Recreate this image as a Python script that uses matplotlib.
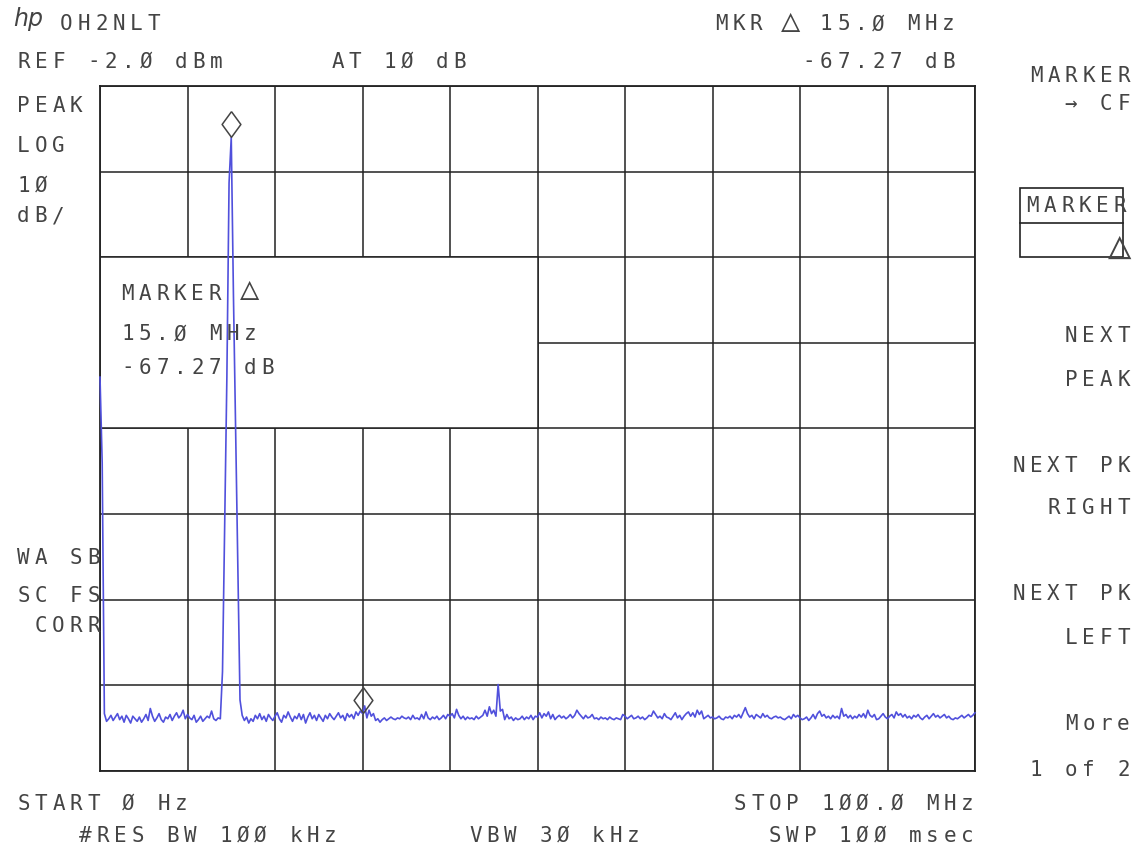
import numpy as np
import matplotlib as mpl; mpl.use('Agg')
import matplotlib.pyplot as plt
from matplotlib.patches import Rectangle
from matplotlib.transforms import offset_copy

W, H = 1148, 865
TRACE = '#5050dc'; INK = '#444444'; GRID = '#222222'

# analyzer settings
F_START, F_STOP = 0.0, 100.0          # MHz
REF_LEVEL, DB_DIV, N_DIV = -2.0, 10.0, 8

# trace, 401 points, dBm
levels = [
    -36.0, -46.0, -75.3, -76.2, -75.9, -75.5, -76.1, -75.7, -75.3, -76.0,
    -75.6, -76.3, -75.5, -75.9, -76.4, -75.6, -75.9, -76.2, -75.7, -76.3,
    -75.9, -75.4, -76.1, -74.7, -75.6, -76.2, -75.8, -75.3, -76.0, -76.3,
    -75.7, -75.9, -75.4, -76.1, -75.6, -75.2, -75.8, -75.5, -74.9, -75.9,
    -75.4, -75.8, -76.0, -75.5, -76.3, -76.0, -75.6, -76.2, -75.9, -75.6,
    -75.8, -75.0, -75.9, -76.1, -75.8, -75.9, -70.4, -53.0, -36.0, -13.3,
    -8.0, -26.4, -42.0, -58.0, -73.7, -75.5, -76.1, -75.7, -76.4, -75.9,
    -76.2, -75.5, -75.9, -75.3, -76.0, -75.6, -76.2, -75.4, -75.8, -76.1,
    -75.6, -75.2, -75.9, -76.3, -75.5, -75.8, -75.1, -75.7, -76.2, -75.6,
    -75.9, -75.3, -76.0, -75.4, -76.4, -75.7, -75.2, -75.9, -75.5, -76.1,
    -75.4, -75.8, -76.2, -75.5, -75.9, -75.3, -75.7, -76.0, -75.6, -75.2,
    -75.8, -75.5, -76.1, -75.3, -75.7, -75.4, -75.9, -75.1, -75.5, -75.0,
    -75.27, -74.4, -75.8, -74.9, -75.6, -75.3, -76.1, -75.9, -76.3, -76.0,
    -75.8, -76.1, -75.9, -75.7, -75.9, -76.0, -75.8, -75.9, -75.6, -75.8,
    -75.9, -75.7, -76.0, -75.5, -75.9, -75.8, -76.0, -75.4, -75.9, -75.1,
    -75.8, -76.0, -75.7, -75.9, -75.6, -76.0, -75.8, -75.5, -75.9, -75.4,
    -75.6, -75.3, -75.8, -74.8, -75.5, -75.9, -75.6, -76.0, -75.7, -75.9,
    -75.8, -76.0, -75.6, -75.9, -75.7, -75.5, -74.9, -75.6, -74.5, -75.3,
    -74.9, -75.6, -71.9, -75.0, -74.8, -76.0, -75.4, -75.9, -75.7, -76.1,
    -75.8, -76.0, -75.9, -75.6, -76.0, -75.7, -75.9, -75.5, -76.0, -75.6,
    -75.7, -75.2, -75.8, -75.3, -75.6, -75.1, -75.9, -75.4, -76.0, -75.7,
    -75.5, -75.8, -75.6, -75.9, -75.7, -75.4, -75.8, -75.5, -74.9, -75.3,
    -75.6, -75.9, -75.5, -75.8, -75.7, -75.4, -75.9, -75.8, -76.0, -75.7,
    -75.9, -75.8, -76.0, -75.7, -75.9, -76.0, -75.8, -75.9, -76.0, -75.4,
    -75.6, -75.9, -75.7, -75.5, -75.9, -75.8, -75.6, -75.9, -75.7, -76.0,
    -75.8, -75.5, -75.6, -75.0, -75.4, -75.8, -75.6, -75.9, -75.3, -75.7,
    -75.8, -76.0, -75.6, -75.2, -75.8, -75.5, -76.0, -75.6, -75.3, -75.1,
    -75.6, -75.2, -75.7, -74.9, -75.4, -75.0, -75.9, -75.7, -75.5, -75.8,
    -75.7, -75.9, -75.8, -75.6, -75.9, -76.0, -75.7, -75.8, -75.6, -75.9,
    -75.5, -75.7, -75.4, -75.8, -75.2, -74.6, -75.3, -75.7, -75.5, -75.9,
    -75.4, -75.6, -75.8, -75.3, -75.7, -75.5, -75.8, -75.9, -75.7, -75.6,
    -75.8, -75.7, -75.9, -76.0, -75.8, -75.6, -75.9, -75.4, -75.7, -75.5,
    -75.8, -76.0, -75.9, -75.7, -76.1, -75.8, -75.4, -75.9, -75.3, -75.0,
    -75.6, -75.4, -75.8, -75.6, -75.9, -75.5, -75.8, -75.6, -75.9, -74.7,
    -75.6, -75.4, -75.8, -75.5, -75.9, -75.6, -75.8, -75.4, -75.7, -75.3,
    -75.8, -74.9, -75.5, -75.7, -75.4, -76.0, -75.9, -75.6, -75.3, -75.7,
    -75.9, -75.6, -75.4, -75.8, -75.1, -75.5, -75.3, -75.7, -75.4, -75.8,
    -75.6, -75.9, -75.5, -75.7, -75.4, -75.8, -76.0, -75.7, -75.5, -75.9,
    -75.6, -75.3, -75.7, -75.5, -75.8, -75.6, -75.4, -75.8, -75.6, -75.9,
    -76.0, -75.8, -75.9, -75.7, -75.5, -75.8, -75.6, -75.4, -75.7, -75.5,
    -75.2,
]
freqs = np.linspace(F_START, F_STOP, len(levels))

# marker (reference) and delta marker, MHz
marker_freqs = [15.0, 30.0]

# annotation box spans 0..50 MHz, divisions 2..4 from top
box_f = (0.0, 50.0)
box_div = (2, 4)

# ---- figure
fig = plt.figure(figsize=(W / 100, H / 100), dpi=100)
ax = fig.add_axes([100 / W, 1 - 771 / H, 875 / W, 685 / H])
bottom = REF_LEVEL - N_DIV * DB_DIV
ax.set_xlim(F_START, F_STOP); ax.set_ylim(bottom, REF_LEVEL)
ax.set_xticks(np.linspace(F_START, F_STOP, 11))
ax.set_yticks(np.linspace(bottom, REF_LEVEL, N_DIV + 1))
ax.tick_params(length=0, labelbottom=False, labelleft=False)
ax.grid(True, color=GRID, lw=1.1)
ax.set_axisbelow(True)
for s in ax.spines.values():
    s.set_color(GRID); s.set_linewidth(1.3)

y_hi = REF_LEVEL - box_div[0] * DB_DIV
y_lo = REF_LEVEL - box_div[1] * DB_DIV
ax.add_patch(Rectangle((box_f[0], y_lo), box_f[1] - box_f[0], y_hi - y_lo,
                       facecolor='white', edgecolor=GRID, lw=1.1, zorder=1))

ax.plot(freqs, levels, color=TRACE, lw=1.2, zorder=3, clip_on=False)

diamond = [(0, 1), (0.73, 0), (0, -1), (-0.73, 0), (0, 1)]
up = offset_copy(ax.transData, fig=fig, x=0, y=13, units='dots')
for mf in marker_freqs:
    lv = np.interp(mf, freqs, levels)
    ax.plot([mf], [lv], marker=diamond, ms=18.5, mfc='none', mec=INK, mew=1.1,
            transform=up, zorder=4, clip_on=False)

# ---- screen annotations, fixed-pitch like the analyzer font
PITCH, GLYPH = 17.5, 11.0
FONT = dict(family=['DejaVu Sans Mono', 'DejaVu Sans'], color=INK)


def hp_text(s, x, y, align='left', tri=23):
    if align == 'right':
        x = x - GLYPH - (len(s) - 1) * PITCH
    for k, ch in enumerate(s):
        if ch == ' ':
            continue
        size = tri if ch == '△' else 15
        fig.text((x + GLYPH / 2 + k * PITCH) / W, 1 - (y + 7.5) / H, ch,
                 ha='center', va='baseline', size=size, **FONT)


fig.text(28 / W, 1 - 26 / H, 'hp', fontstyle='italic', ha='center', va='baseline',
         family='DejaVu Sans', size=17, color=INK)
hp_text('OH2NLT', 61, 23)
hp_text('REF -2.Ø dBm', 18, 60)
hp_text('AT 1Ø dB', 332, 60)
hp_text('MKR △ 15.Ø MHz', 954, 23, 'right')
hp_text('-67.27 dB', 954, 60, 'right')

for s, y in [('PEAK', 105), ('LOG', 145), ('1Ø', 184), ('dB/', 215),
             ('WA SB', 556), ('SC FS', 595), (' CORR', 624)]:
    hp_text(s, 18, y)

for s, y in [('MARKER △', 292), ('15.Ø MHz', 333), ('-67.27 dB', 366)]:
    hp_text(s, 122, y)

for s, y in [('MARKER', 75), ('→ CF', 102), ('NEXT', 335), ('PEAK', 379),
             ('NEXT PK', 465), ('RIGHT', 507), ('NEXT PK', 593), ('LEFT', 636),
             ('More', 722), ('1 of 2', 768)]:
    hp_text(s, 1129, y, 'right')

# active softkey box
fig.add_artist(Rectangle((1020 / W, 1 - 257 / H), 103 / W, 69 / H, transform=fig.transFigure,
                         facecolor='none', edgecolor=GRID, lw=1.2))
fig.add_artist(plt.Line2D([1020 / W, 1123 / W], [1 - 223 / H, 1 - 223 / H],
                          transform=fig.transFigure, color=GRID, lw=1.2))
hp_text('MARKER', 1027, 205)
hp_text('△', 1114, 250, tri=28)

hp_text('START Ø Hz', 18, 802)
hp_text('STOP 1ØØ.Ø MHz', 973, 802, 'right')
hp_text('#RES BW 1ØØ kHz', 80, 834)
hp_text('VBW 3Ø kHz', 470, 834)
hp_text('SWP 1ØØ msec', 973, 834, 'right')

fig.savefig('out.png', dpi=100)
